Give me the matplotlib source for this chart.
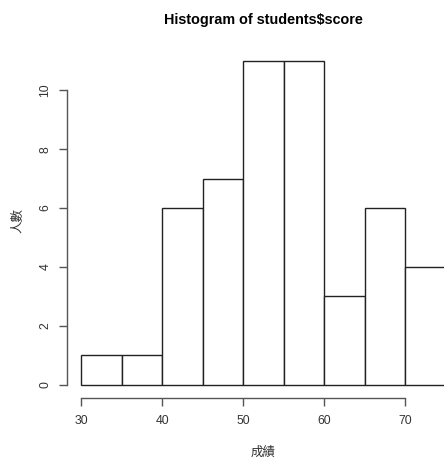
import matplotlib
matplotlib.use("Agg")
import matplotlib.pyplot as plt

bin_edges = [30, 35, 40, 45, 50, 55, 60, 65, 70, 75]
counts = [1, 1, 6, 7, 11, 11, 3, 6, 4]
x_ticks = [30, 40, 50, 60, 70]
y_ticks = [0, 2, 4, 6, 8, 10]
title = "Histogram of students$score"
xlabel = "成績"
ylabel = "人數"

W, H = 444, 458
fig = plt.figure(figsize=(W / 100, H / 100), dpi=100)
left_px, right_px, top_px, bottom_px = 66.8, 460, 48, 397.5
ax = fig.add_axes([left_px / W, (H - bottom_px) / H, (right_px - left_px) / W, (bottom_px - top_px) / H])

lefts = bin_edges[:-1]
widths = [b - a for a, b in zip(bin_edges[:-1], bin_edges[1:])]
ax.bar(lefts, counts, width=widths, align="edge", facecolor="white", edgecolor="#222222", linewidth=1.0)

ax.set_xlim(28.2, 76.8)
ax.set_ylim(-0.44, 11.44)
for s in ["top", "right"]:
    ax.spines[s].set_visible(False)
ax.spines["left"].set_bounds(0, 10)
ax.spines["bottom"].set_bounds(30, 70)
for s in ["left", "bottom"]:
    ax.spines[s].set_color("#555555")
    ax.spines[s].set_linewidth(1.0)
ax.set_xticks(x_ticks)
ax.set_yticks(y_ticks)
ax.tick_params(axis="both", direction="out", length=6, width=1.0, color="#555555",
               labelsize=8.8, labelcolor="#333333")
ax.tick_params(axis="x", pad=6.5)
ax.tick_params(axis="y", pad=5)
for lab in ax.get_yticklabels():
    lab.set_rotation(90)
    lab.set_va("center")
for lab in ax.get_xticklabels() + ax.get_yticklabels():
    lab.set_family(["Liberation Sans", "DejaVu Sans"])

ax.set_xlabel(xlabel, family=["Noto Sans CJK TC", "DejaVu Sans"], fontsize=9, color="#333333")
ax.set_ylabel(ylabel, family=["Noto Sans CJK TC", "DejaVu Sans"], fontsize=9, color="#333333")
ax.xaxis.set_label_coords(0.5, (bottom_px - 452) / (bottom_px - top_px))
ax.yaxis.set_label_coords((18 - left_px) / (right_px - left_px), 0.507)
ax.xaxis.label.set_va("center")
ax.yaxis.label.set_va("center")

ax.text(0.5, (bottom_px - 20) / (bottom_px - top_px), title, transform=ax.transAxes,
        ha="center", va="center", fontsize=10.4, fontweight="bold",
        family=["Liberation Sans", "DejaVu Sans"])

fig.savefig("out.png", dpi=100)
